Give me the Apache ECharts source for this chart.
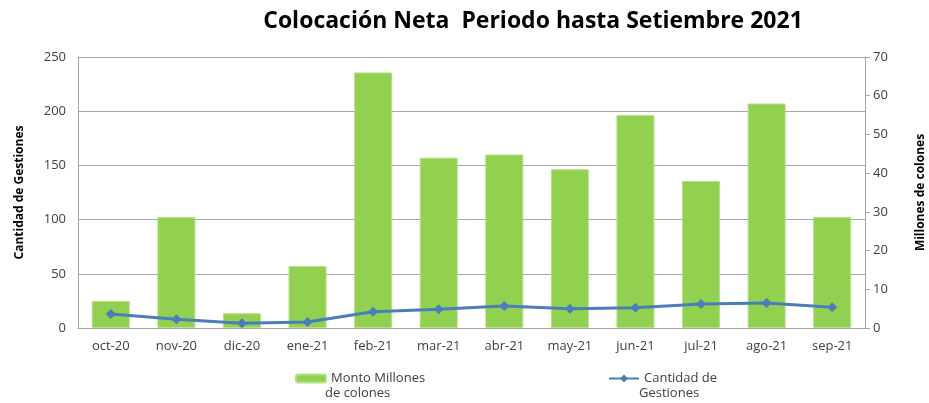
<!DOCTYPE html>
<html>
<head>
<meta charset="utf-8">
<script src="https://cdn.jsdelivr.net/npm/echarts@6/dist/echarts.min.js"></script>
<style>
html, body { margin: 0; padding: 0; background: #fff; }
#chart { width: 929px; height: 403px; }
</style>
</head>
<body>
<div id="chart"></div>
<script>
// datos
const meses = ['oct-20', 'nov-20', 'dic-20', 'ene-21', 'feb-21', 'mar-21', 'abr-21', 'may-21', 'jun-21', 'jul-21', 'ago-21', 'sep-21']
const montoMillones = [7, 28.7, 3.8, 16, 66, 44, 44.8, 41, 55, 38, 58, 28.7]
const cantidadGestiones = [13, 8, 4.3, 5.5, 15, 17.2, 20.3, 17.8, 18.7, 22.1, 23, 19.1]

const gris = '#a6a6a6'
const texto = '#404040'
const fuente = 'Open Sans'

const chart = echarts.init(document.getElementById('chart'))

// la leyenda muestra la primera linea, la segunda va como texto aparte
const primeraLinea = name => name.split('\n')[0]
const legendText = { fontSize: 13, color: texto, fontFamily: fuente }

const option = {
  animation: false,
  textStyle: { fontFamily: fuente },
  title: {
    text: 'Colocación Neta  Periodo hasta Setiembre 2021',
    left: 528,
    textAlign: 'center',
    top: 5,
    textStyle: { fontSize: 23, fontWeight: 'bold', color: '#000', fontFamily: fuente }
  },
  legend: [
    {
      data: ['Monto Millones\nde colones'],
      left: 290,
      top: 367,
      itemWidth: 30,
      itemHeight: 8,
      formatter: primeraLinea,
      textStyle: legendText
    },
    {
      data: ['Cantidad de\nGestiones'],
      left: 603,
      top: 367,
      itemWidth: 30,
      itemHeight: 10,
      formatter: primeraLinea,
      textStyle: legendText
    }
  ],
  graphic: [
    { type: 'text', left: 325, top: 387, style: { text: 'de colones', font: '13px "Open Sans"', fill: texto } },
    { type: 'text', left: 639, top: 387, style: { text: 'Gestiones', font: '13px "Open Sans"', fill: texto } }
  ],
  grid: { left: 78, right: 64, top: 57, bottom: 75, outerBoundsMode: 'none' },
  xAxis: {
    type: 'category',
    data: meses,
    axisLine: { lineStyle: { color: gris } },
    axisTick: { show: false },
    axisLabel: { color: texto, fontSize: 13, margin: 12 }
  },
  yAxis: [
    {
      type: 'value',
      name: 'Cantidad de Gestiones',
      nameLocation: 'middle',
      nameGap: 52,
      nameTextStyle: { fontWeight: 'bold', fontSize: 12, color: '#000' },
      min: 0,
      max: 250,
      interval: 50,
      axisLine: { show: true, lineStyle: { color: gris } },
      axisTick: { show: false },
      axisLabel: { color: texto, fontSize: 13, margin: 12 },
      splitLine: { lineStyle: { color: gris } }
    },
    {
      type: 'value',
      name: 'Millones de colones',
      nameLocation: 'middle',
      nameGap: 50,
      nameTextStyle: { fontWeight: 'bold', fontSize: 12, color: '#000' },
      min: 0,
      max: 70,
      interval: 10,
      position: 'right',
      axisLine: { show: true, lineStyle: { color: gris } },
      axisTick: { show: true, length: 5, lineStyle: { color: gris } },
      axisLabel: { color: texto, fontSize: 13, margin: 8 },
      splitLine: { show: false }
    }
  ],
  series: [
    {
      name: 'Monto Millones\nde colones',
      type: 'bar',
      yAxisIndex: 1,
      data: montoMillones,
      barWidth: '58%',
      itemStyle: { color: '#92d050', borderColor: '#b5e08a', borderWidth: 1 }
    },
    {
      name: 'Cantidad de\nGestiones',
      type: 'line',
      yAxisIndex: 0,
      data: cantidadGestiones,
      symbol: 'diamond',
      symbolSize: 10,
      lineStyle: { color: '#4a7ebb', width: 3 },
      itemStyle: { color: '#4a7ebb' }
    }
  ]
}

chart.setOption(option)
</script>
</body>
</html>
